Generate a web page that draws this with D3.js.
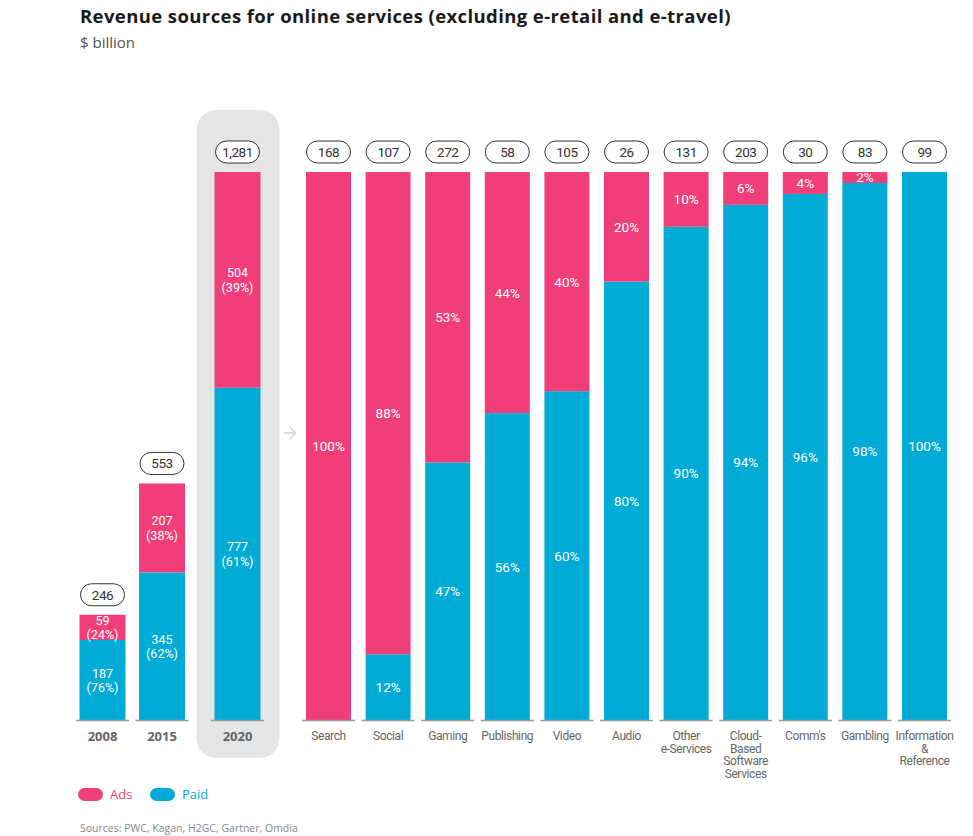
<html>
<head>
  <script src="https://cdn.jsdelivr.net/npm/d3@7"></script>
  <style>
    body { margin: 0; background: #fff; }
    text { font-family: "Roboto", sans-serif; }
  </style>
</head>
<body>
<script>

  var years = ['2008', '2015', '2020'],
      yearAds = [59, 207, 504],
      yearPaid = [187, 345, 777],
      yearTotal = [246, 553, 1281],
      yearAdsPct = [24, 38, 39],
      yearPaidPct = [76, 62, 61];

  var categories = ['Search', 'Social', 'Gaming', 'Publishing', 'Video', 'Audio',
    'Other\ne-Services', 'Cloud-\nBased\nSoftware\nServices', "Comm's", 'Gambling',
    'Information\n&\nReference'];
  var catTotal = [168, 107, 272, 58, 105, 26, 131, 203, 30, 83, 99],
      catAdsPct = [100, 88, 53, 44, 40, 20, 10, 6, 4, 2, 0],
      catPaidPct = [0, 12, 47, 56, 60, 80, 90, 94, 96, 98, 100];

  var pink = '#ef3e78',
      blue = '#00abd5';

  var width = 973,
      height = 836,
      baseY = 720,
      topY = 172,
      barW = 45;

  var svg = d3.select('body')
    .append('svg')
    .attr('width', width)
    .attr('height', height);

  // title
  svg.append('text')
    .attr('x', 80).attr('y', 23)
    .style('font-family', '"Open Sans", sans-serif')
    .style('font-weight', 700)
    .style('font-size', '18.5px')
    .style('letter-spacing', '0.4px')
    .attr('fill', '#1a1a1a')
    .text('Revenue sources for online services (excluding e-retail and e-travel)');

  svg.append('text')
    .attr('x', 80).attr('y', 48)
    .style('font-family', '"Open Sans", sans-serif')
    .style('font-size', '15px')
    .attr('fill', '#555')
    .text('$ billion');

  // scales
  var xYear = d3.scaleLinear().domain([0, 1, 2]).range([102.5, 162, 237.5]);
  var yVal = d3.scaleLinear().domain([0, d3.max(yearTotal)]).range([baseY, topY]);
  var xCat = d3.scaleBand().domain(categories).range([298.7, 954.3])
    .paddingInner(0.245).paddingOuter(0.1225);
  var yPct = d3.scaleLinear().domain([0, 100]).range([baseY, topY]);

  // 2020 highlight panel
  svg.append('rect')
    .attr('x', xYear(2) - 41).attr('y', 110)
    .attr('width', 83).attr('height', 648)
    .attr('rx', 20)
    .attr('fill', '#e4e5e7');

  // arrow
  svg.append('path')
    .attr('d', 'M' + (xYear(2) + 52) + ',' + 427 + ' l6,6 l-6,6 M' + (xYear(2) + 46) + ',433 h12')
    .attr('fill', 'none')
    .attr('stroke', '#d4d4d4')
    .attr('stroke-width', 1.3);

  function pill(g, cx, cy, label) {
    g.append('rect')
      .attr('x', cx - 22).attr('y', cy - 11)
      .attr('width', 44).attr('height', 22)
      .attr('rx', 11)
      .attr('fill', '#fff')
      .attr('stroke', '#333')
      .attr('stroke-width', 1);
    g.append('text')
      .attr('x', cx).attr('y', cy + 5)
      .attr('text-anchor', 'middle')
      .style('font-size', '13.5px')
      .style('letter-spacing', '-0.5px')
      .attr('fill', '#333')
      .text(label);
  }

  function twoLine(g, cx, cy, a, b) {
    var t = g.append('text')
      .attr('text-anchor', 'middle')
      .attr('fill', '#fff')
      .style('font-size', '12.5px');
    t.append('tspan').attr('x', cx).attr('y', cy - 2.5).text(a);
    t.append('tspan').attr('x', cx).attr('y', cy + 12).text(b);
  }

  // year bars
  var yg = svg.append('g');
  years.forEach(function(yr, i) {
    var cx = xYear(i);
    yg.append('rect')
      .attr('x', cx - barW / 2 - 0.5).attr('width', barW + 1)
      .attr('y', yVal(yearPaid[i])).attr('height', baseY - yVal(yearPaid[i]))
      .attr('fill', blue);
    yg.append('rect')
      .attr('x', cx - barW / 2 - 0.5).attr('width', barW + 1)
      .attr('y', yVal(yearTotal[i])).attr('height', yVal(yearPaid[i]) - yVal(yearTotal[i]))
      .attr('fill', pink);
    yg.append('line')
      .attr('x1', cx - barW / 2 - 4).attr('x2', cx + barW / 2 + 4)
      .attr('y1', baseY + 0.5).attr('y2', baseY + 0.5)
      .attr('stroke', '#9a9a9a').attr('stroke-width', 1.5);
    twoLine(yg, cx, (yVal(yearPaid[i]) + baseY) / 2, yearPaid[i], '(' + yearPaidPct[i] + '%)');
    twoLine(yg, cx, (yVal(yearTotal[i]) + yVal(yearPaid[i])) / 2, yearAds[i], '(' + yearAdsPct[i] + '%)');
    pill(yg, cx, yVal(yearTotal[i]) - 20, d3.format(',')(yearTotal[i]));
    yg.append('text')
      .attr('x', cx).attr('y', 741)
      .attr('text-anchor', 'middle')
      .style('font-family', '"Open Sans", sans-serif')
      .style('font-weight', 700)
      .style('font-size', '13px')
      .attr('fill', '#666')
      .text(yr);
  });

  // category bars
  var cg = svg.append('g');
  categories.forEach(function(c, i) {
    var x0 = xCat(c), bw = xCat.bandwidth(), cx = x0 + bw / 2;
    var yb = yPct(catPaidPct[i]);
    cg.append('rect')
      .attr('x', x0).attr('width', bw)
      .attr('y', yb).attr('height', baseY - yb)
      .attr('fill', blue);
    cg.append('rect')
      .attr('x', x0).attr('width', bw)
      .attr('y', topY).attr('height', yb - topY)
      .attr('fill', pink);
    cg.append('line')
      .attr('x1', x0 - 4).attr('x2', x0 + bw + 4)
      .attr('y1', baseY + 0.5).attr('y2', baseY + 0.5)
      .attr('stroke', '#9a9a9a').attr('stroke-width', 1.5);
    if (catAdsPct[i] > 0) {
      cg.append('text')
        .attr('x', cx).attr('y', (topY + yb) / 2 + 5)
        .attr('text-anchor', 'middle')
        .attr('fill', '#fff')
        .style('font-size', '13.5px')
        .text(catAdsPct[i] + '%');
    }
    if (catPaidPct[i] > 0) {
      cg.append('text')
        .attr('x', cx).attr('y', (yb + baseY) / 2 + 5)
        .attr('text-anchor', 'middle')
        .attr('fill', '#fff')
        .style('font-size', '13.5px')
        .text(catPaidPct[i] + '%');
    }
    pill(cg, cx, topY - 20, d3.format(',')(catTotal[i]));
    var t = cg.append('text')
      .attr('text-anchor', 'middle')
      .attr('fill', '#666')
      .style('font-size', '12px')
      .style('letter-spacing', '-0.4px');
    c.split('\n').forEach(function(line, j) {
      t.append('tspan').attr('x', cx).attr('y', 740 + j * 12.5).text(line);
    });
  });

  // legend
  var lg = svg.append('g');
  [['Ads', pink, 78], ['Paid', blue, 150]].forEach(function(d) {
    lg.append('rect')
      .attr('x', d[2]).attr('y', 788)
      .attr('width', 25).attr('height', 13)
      .attr('rx', 6.5)
      .attr('fill', d[1]);
    lg.append('text')
      .attr('x', d[2] + 32).attr('y', 799)
      .style('font-family', '"Open Sans", sans-serif')
      .style('font-size', '13px')
      .attr('fill', d[1])
      .text(d[0]);
  });

  svg.append('text')
    .attr('x', 80).attr('y', 832)
    .style('font-family', '"Open Sans", sans-serif')
    .style('font-size', '10.5px')
    .attr('fill', '#888')
    .text('Sources: PWC, Kagan, H2GC, Gartner, Omdia');

</script>
</body>
</html>
